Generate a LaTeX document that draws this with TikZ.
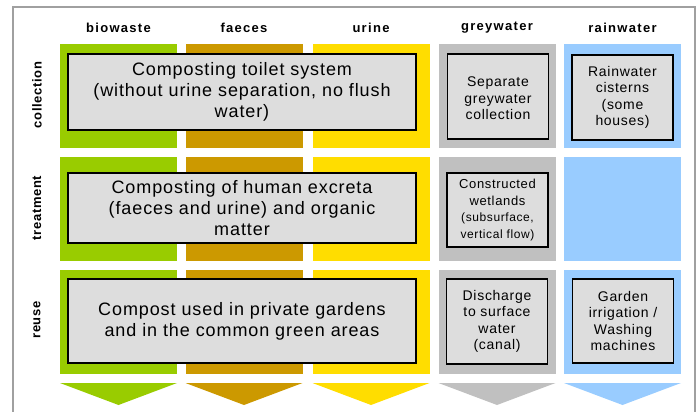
\documentclass[tikz,border=0pt]{standalone}
\usepackage{fontspec}
\setmainfont{Liberation Sans}
\newfontfamily\widefont{Liberation Sans}[LetterSpace=5]
\newfontfamily\widerfont{Liberation Sans}[LetterSpace=10]
\definecolor{cbio}{HTML}{99CC00}
\definecolor{cfae}{HTML}{CC9900}
\definecolor{curi}{HTML}{FFDD00}
\definecolor{cgry}{HTML}{C0C0C0}
\definecolor{crain}{HTML}{99CCFF}
\definecolor{cbox}{HTML}{DDDDDD}
\definecolor{cframe}{HTML}{A0A0A0}
\begin{document}
\begin{tikzpicture}[x=1pt,y=-1pt,
  band/.style={fill=#1,draw=none,inner sep=0pt,minimum width=117pt},
  bigbox/.style={draw=black,line width=1.6pt,fill=cbox,align=center,inner sep=0pt,
     minimum width=348pt,font=\widefont\fontsize{18}{21}\selectfont},
  smallbox/.style={draw=black,line width=1.6pt,fill=cbox,align=center,inner sep=0pt,
     minimum width=101pt,minimum height=85pt,font=\widefont\fontsize{14}{16.5}\selectfont},
  header/.style={font=\widerfont\bfseries\fontsize{13}{15}\selectfont,inner sep=0pt},
  rowlabel/.style={font=\widefont\bfseries\fontsize{13}{15}\selectfont,inner sep=0pt,rotate=90}]
\useasboundingbox (0,0) rectangle (699,412);
\draw[cframe,line width=2pt] (13,412) -- (13,7) -- (695,7) -- (695,412);
% headers
\node[header] (hbio) at (118.5,28) {biowaste};
\node[header] (hfae) at (244,28) {faeces};
\node[header] (huri) at (371,28) {urine};
\node[header] (hgry) at (497,28) {greywater};
\node[header] (hrain) at (622.5,28) {rainwater};
% row labels
\node[rowlabel] (lcol) at (37,95) {collection};
\node[rowlabel] (ltre) at (37,208) {treatment};
\node[rowlabel] (lreu) at (37,320) {reuse};
% bands and chevrons
\foreach \c/\x in {cbio/118.5,cfae/244,curi/371,cgry/497,crain/622.5}{
  \foreach \y/\n in {96/a,209/b,322/c}{
    \node[band=\c,minimum height=104pt] (band\c\n) at (\x,\y) {};
  }
  \fill[\c] (\x-58.5,383) -- (\x+58.5,383) -- (\x,405) -- cycle;
}
% big boxes
\node[bigbox,minimum height=76pt] (bcol) at (242,92)
  {Composting toilet system\\(without urine separation, no flush\\water)};
\node[bigbox,minimum height=70pt] (btre) at (242,208)
  {Composting of human excreta\\(faeces and urine) and organic\\matter};
\node[bigbox,minimum height=84pt] (breu) at (242,321)
  {Compost used in private gardens\\and in the common green areas};
% small boxes
\node[smallbox] (gcol) at (498,96.5) {\\[-3pt]Separate\\greywater\\collection};
\node[smallbox,minimum height=74pt] (gtre) at (497.5,210)
  {{\fontsize{13}{16}\selectfont Constructed}\\{\fontsize{13}{16}\selectfont wetlands}\\{\fontsize{12}{15}\selectfont (subsurface,}\\{\fontsize{12}{15}\selectfont vertical flow)}};
\node[smallbox] (greu) at (497,321.5) {Discharge\\to surface\\water\\(canal)};
\node[smallbox] (rcol) at (622.5,97.5) {Rainwater\\cisterns\\(some\\houses)};
\node[smallbox,minimum height=84pt] (rreu) at (623,321) {Garden\\irrigation /\\Washing\\machines};
\end{tikzpicture}
\end{document}
